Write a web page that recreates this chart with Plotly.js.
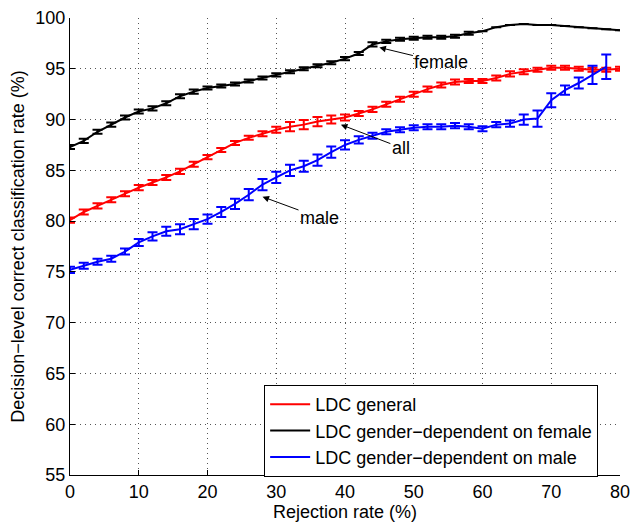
<!DOCTYPE html>
<html>
<head>
<meta charset="utf-8">
<script src="https://cdn.plot.ly/plotly-3.0.1.min.js"></script>
<style>html,body{margin:0;padding:0;background:#fff;}#chart{width:630px;height:524px;}</style>
</head>
<body>
<div id="chart"></div>
<script>
var rejection = [0,2,4,6,8,10,12,14,16,18,20,22,24,26,28,30,32,34,36,38,40,42,44,46,48,50,52,54,56,58,60,62,64,66,68,70,72,74,76,78,80];
var rejectionMale = [0,2,4,6,8,10,12,14,16,18,20,22,24,26,28,30,32,34,36,38,40,42,44,46,48,50,52,54,56,58,60,62,64,66,68,70,72,74,76,78];

var generalRate = [80.1,80.9,81.5,82.1,82.7,83.3,83.8,84.3,84.9,85.6,86.3,87.0,87.7,88.2,88.6,89.0,89.3,89.5,89.8,90.0,90.2,90.6,91.0,91.5,92.0,92.5,93.0,93.4,93.7,93.8,93.8,94.1,94.5,94.7,94.9,95.1,95.1,95.0,94.9,94.9,95.0];
var generalErr  = [0.25,0.25,0.25,0.25,0.25,0.25,0.25,0.25,0.25,0.25,0.2,0.2,0.2,0.2,0.25,0.3,0.45,0.45,0.45,0.4,0.3,0.25,0.25,0.25,0.25,0.25,0.25,0.25,0.25,0.2,0.2,0.25,0.25,0.25,0.2,0.2,0.2,0.2,0.2,0.2,0.2];

var femaleRate = [87.3,87.9,88.8,89.5,90.2,90.8,91.1,91.6,92.3,92.75,93.1,93.3,93.5,93.8,94.1,94.4,94.7,95.0,95.3,95.6,96.0,96.5,97.4,97.7,97.9,98.0,98.1,98.1,98.2,98.5,98.7,99.1,99.3,99.4,99.3,99.3,99.2,99.1,99.0,98.9,98.8];
var femaleErr  = [0.2,0.2,0.2,0.2,0.2,0.2,0.2,0.2,0.2,0.2,0.15,0.15,0.15,0.15,0.15,0.15,0.15,0.15,0.15,0.15,0.15,0.15,0.2,0.15,0.15,0.15,0.15,0.15,0.15,0.15,0,0,0,0,0,0,0,0,0,0,0];

var maleRate = [75.2,75.6,76.0,76.3,77.0,77.9,78.5,79.0,79.2,79.7,80.2,80.9,81.7,82.6,83.6,84.3,85.0,85.4,86.0,86.8,87.5,88.0,88.4,88.8,89.0,89.2,89.3,89.3,89.4,89.3,89.1,89.5,89.6,90.0,90.1,91.9,92.9,93.6,94.4,95.2];
var maleErr  = [0.3,0.3,0.3,0.3,0.3,0.35,0.4,0.45,0.5,0.5,0.45,0.5,0.5,0.55,0.55,0.55,0.55,0.55,0.55,0.55,0.45,0.35,0.3,0.25,0.25,0.25,0.25,0.25,0.25,0.25,0.25,0.25,0.3,0.5,0.8,0.7,0.45,0.55,0.9,1.2];

var xTicks = [0,10,20,30,40,50,60,70,80];
var yTicks = [55,60,65,70,75,80,85,90,95,100];

var font = "'Liberation Sans', Arial, Helvetica, sans-serif";
var fs = 18;

function series(x, y, err, color, name) {
  return {
    x: x, y: y, type: 'scatter', mode: 'lines', name: name,
    line: {color: color, width: 2},
    error_y: {type: 'data', array: err, visible: true, color: color, thickness: 2, width: 5}
  };
}

var data = [
  series(rejection, generalRate, generalErr, '#ff0000', 'LDC general'),
  series(rejection, femaleRate, femaleErr, '#000000', 'LDC gender\u2212dependent on female'),
  series(rejectionMale, maleRate, maleErr, '#0000ff', 'LDC gender\u2212dependent on male')
];

var ann = function(x, y, text, ax, ay) {
  return {x: x, y: y, xref: 'x', yref: 'y', text: text, showarrow: true,
    ax: ax, ay: ay, arrowhead: 2, arrowsize: 1.3, arrowwidth: 1, arrowcolor: '#000',
    font: {family: font, size: fs, color: '#000'}};
};

var layout = {
  width: 630, height: 524,
  margin: {l: 70, r: 10, t: 18, b: 49},
  paper_bgcolor: '#fff', plot_bgcolor: '#fff',
  font: {family: font, size: fs, color: '#000'},
  showlegend: true,
  legend: {x: 0.353, y: 0.197, xanchor: 'left', yanchor: 'top', itemwidth: 40,
    bgcolor: '#fff', bordercolor: '#000', borderwidth: 1,
    font: {family: font, size: fs, color: '#000'}, tracegroupgap: 0},
  xaxis: {range: [0, 80], tickvals: xTicks, ticks: 'inside', ticklen: 5, tickcolor: '#000',
    showline: true, linecolor: '#000', linewidth: 1, mirror: false, ticklabeloverflow: 'allow',
    showgrid: true, gridcolor: '#555', griddash: '1px,4px', gridwidth: 1, zeroline: false,
    title: {text: 'Rejection rate (%)', font: {family: font, size: fs}, standoff: 4},
    tickfont: {family: font, size: fs}},
  yaxis: {range: [55, 100], tickvals: yTicks, ticks: 'inside', ticklen: 5, tickcolor: '#000',
    showline: true, linecolor: '#000', linewidth: 1, mirror: false, ticklabeloverflow: 'allow',
    showgrid: true, gridcolor: '#555', griddash: '1px,4px', gridwidth: 1, zeroline: false,
    title: {text: 'Decision\u2212level correct classification rate (%)', font: {family: font, size: fs}},
    tickfont: {family: font, size: fs}},
  annotations: [
    ann(45, 97.1, 'female', 62, 15),
    ann(39.4, 89.5, 'all', 60, 23),
    ann(28, 82.4, 'male', 57, 21)
  ]
};

Plotly.newPlot('chart', data, layout, {displayModeBar: false, staticPlot: true});
</script>
</body>
</html>
